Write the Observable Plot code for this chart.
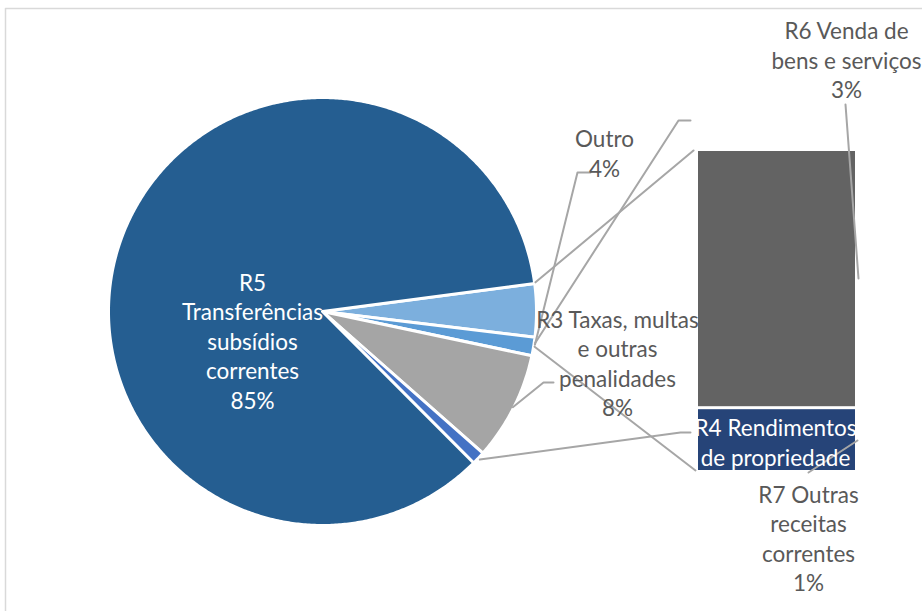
<!DOCTYPE html>
<html>
<head>
<meta charset="utf-8">
<script src="https://cdn.jsdelivr.net/npm/d3@7"></script>
<script src="https://cdn.jsdelivr.net/npm/@observablehq/plot@0.6"></script>
<style>
  html, body { margin: 0; padding: 0; background: #ffffff; }
  #chart { width: 922px; height: 611px; }
</style>
</head>
<body>
<div id="chart"></div>
<script>
// ---- data ----
// pie slices, clockwise starting with the "Outro" slice
const pieKeys   = ["Outro", "R7", "R3", "R4", "R5"];
const pieValues = [4.0, 1.4, 8.2, 1.0, 85.4];
const pieColors = ["#7cafdd", "#5b9bd5", "#a5a5a5", "#4472c4", "#255e91"];
// bar of "Outro"
const barKeys   = ["R6", "R4b"];
const barValues = [3.2, 0.8];
const barColors = ["#636363", "#264478"];
// label texts
const labelTexts = {
  R5: "R5\nTransferências\nsubsídios\ncorrentes\n85%",
  Outro: "Outro\n4%",
  R3: "R3 Taxas, multas\ne outras\npenalidades\n8%",
  R6: "R6 Venda de\nbens e serviços\n3%",
  R4: "R4 Rendimentos\nde propriedade",
  R7: "R7 Outras\nreceitas\ncorrentes\n1%"
};

// ---- layout ----
const W = 922, H = 611;
const cx = 322, cy = 311, R = 214;
const startDeg = -7.5;               // start angle of first slice (clockwise from east)
const bar = {x1: 698, x2: 855, y1: 151, y2: 470, gap: 3};
const rad = d => d * Math.PI / 180;
const pt = (deg, r) => ({x: cx + r * Math.cos(rad(deg)), y: cy + r * Math.sin(rad(deg))});

const total = d3.sum(pieValues);
let acc = startDeg;
const slices = pieKeys.map((k, i) => {
  const a0 = acc, a1 = acc + pieValues[i] / total * 360;
  acc = a1;
  const pts = [{x: cx, y: cy}];
  const n = Math.max(4, Math.ceil((a1 - a0) / 0.5));
  for (let j = 0; j <= n; j++) pts.push(pt(a0 + (a1 - a0) * j / n, R));
  return {key: k, a0, a1, mid: (a0 + a1) / 2, color: pieColors[i], pts};
});
const S = Object.fromEntries(slices.map(s => [s.key, s]));

const barTotal = d3.sum(barValues);
const barH = bar.y2 - bar.y1;
let bacc = 0;
const barRects = barKeys.map((k, i) => {
  const y1 = bar.y1 + bacc / barTotal * barH;
  bacc += barValues[i];
  const y2 = bar.y1 + bacc / barTotal * barH;
  return {key: k, x1: bar.x1, x2: bar.x2, y1: i === 0 ? y1 : y1 + bar.gap, y2, color: barColors[i]};
});

// leader lines (pie ends derived from slice angles)
const edge = (deg) => pt(deg, R + 1);
const leaders = [
  [edge(S.Outro.a0 - 0.3), {x: bar.x1 - 5, y: bar.y1 - 1}],                         // series line top
  [edge(S.R7.mid), {x: bar.x1 - 3, y: bar.y2}],                                       // series line bottom
  [edge(S.R7.mid - 1), {x: 678, y: 120}, {x: 690, y: 120}],
  [{x: 590, y: 172}, {x: 577, y: 172}, edge(S.Outro.a1 + 2)],                        // Outro
  [{x: 553, y: 382}, {x: 543, y: 382}, pt(S.R3.mid, R - 1)],                           // R3
  [pt(S.R4.mid, R + 2), {x: 680, y: 432}, {x: 690, y: 432}],                          // R4
  [{x: 808, y: 472}, {x: 857, y: 440}],                                               // R7
  [{x: 845, y: 104}, {x: 858, y: 278}]                                                // R6
];
const leaderPts = leaders.flatMap((l, i) => l.map(p => ({...p, id: i})));

const FONT = "Lato, 'Liberation Sans', sans-serif";
const labels = [
  {x: 252, y: 340, text: labelTexts.R5, fill: "#ffffff"},
  {x: 604, y: 152, text: labelTexts.Outro, fill: "#595959"},
  {x: 617, y: 362, text: labelTexts.R3, fill: "#595959"},
  {x: 846, y: 59, text: labelTexts.R6, fill: "#595959"},
  {x: 775, y: 441, text: labelTexts.R4, fill: "#ffffff"},
  {x: 808, y: 537, text: labelTexts.R7, fill: "#595959"}
];

const marks = [
  // frame
  Plot.line([{x: 5, y: H}, {x: 5, y: 8}, {x: W, y: 8}], {x: "x", y: "y", stroke: "#d9d9d9", strokeWidth: 1.5}),
  // pie slices
  ...slices.map(s => Plot.line(s.pts, {x: "x", y: "y", curve: "linear-closed", fill: s.color, stroke: "#ffffff", strokeWidth: 3, strokeLinejoin: "round"})),
  // bar of pie
  Plot.rect(barRects, {x1: "x1", x2: "x2", y1: "y1", y2: "y2", fill: "color", stroke: "none"}),
  // leaders
  Plot.line(leaderPts, {x: "x", y: "y", z: "id", stroke: "#a6a6a6", strokeWidth: 2}),
  // labels
  Plot.text(labels, {x: "x", y: "y", text: "text", fill: "fill", fontSize: 22.5, lineHeight: 1.31, fontFamily: FONT, textAnchor: "middle", lineAnchor: "middle"})
];

const chart = Plot.plot({
  width: W, height: H,
  margin: 0,
  x: {type: "identity", axis: null},
  y: {type: "identity", axis: null},
  style: {background: "#ffffff", fontFamily: FONT},
  marks
});
document.getElementById("chart").appendChild(chart);
</script>
</body>
</html>
